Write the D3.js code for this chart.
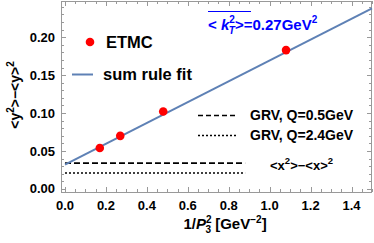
<!DOCTYPE html>
<html>
<head>
<meta charset="utf-8">
<script src="https://cdn.jsdelivr.net/npm/d3@7"></script>
<style>
  body { margin: 0; background: #fff; }
  text { font-family: "Liberation Sans", Arial, sans-serif; font-weight: bold; }
</style>
</head>
<body>
<div id="chart-area"></div>
<script>
// ETMC lattice points
var etmcX = [0.17, 0.27, 0.48, 1.08];
var etmcY = [0.054, 0.070, 0.102, 0.183];
// sum rule fit: intercept + slope * x
var fitX = [0, 1.5];
var fitY = [0.032, 0.238];
// GRV constant lines
var grvLevels = [0.034, 0.021];
var grvRange = [0, 0.88];
var xTicks = [0.0, 0.2, 0.4, 0.6, 0.8, 1.0, 1.2, 1.4];
var yTicks = [0.00, 0.05, 0.10, 0.15, 0.20];

var W = 374, H = 243;
var svg = d3.select("#chart-area").append("svg")
    .attr("width", W)
    .attr("height", H);

var x = d3.scaleLinear().domain([-0.0195, 1.5]).range([61, 372]);
var y = d3.scaleLinear().domain([-0.004, 0.2477]).range([192, 1]);

var frameColor = "#999";

// minor ticks
var xMinor = d3.range(0, 1.51, 0.05);
var yMinor = d3.range(0, 0.2451, 0.01);

function isMajor(v, step) {
    return Math.abs(v / step - Math.round(v / step)) < 1e-6;
}

var ticks = svg.append("g").attr("stroke", frameColor).attr("stroke-width", 1);
xMinor.forEach(function(v) {
    var len = isMajor(v, 0.2) ? 5 : 3;
    var px = Math.round(x(v)) + 0.5;
    ticks.append("line").attr("x1", px).attr("x2", px).attr("y1", 192).attr("y2", 192 - len);
    ticks.append("line").attr("x1", px).attr("x2", px).attr("y1", 1).attr("y2", 1 + len);
});
yMinor.forEach(function(v) {
    var len = isMajor(v, 0.05) ? 5 : 3;
    var py = Math.round(y(v)) + 0.5;
    ticks.append("line").attr("x1", 61).attr("x2", 61 + len).attr("y1", py).attr("y2", py);
    ticks.append("line").attr("x1", 372).attr("x2", 372 - len).attr("y1", py).attr("y2", py);
});

// frame
svg.append("rect")
    .attr("x", 61.5).attr("y", 1.5)
    .attr("width", 310).attr("height", 191)
    .attr("fill", "none").attr("stroke", frameColor);

// tick labels
svg.selectAll(".xl").data(xTicks).enter().append("text")
    .attr("x", function(d) { return x(d); })
    .attr("y", 210)
    .attr("text-anchor", "middle")
    .attr("font-size", 13)
    .text(function(d) { return d.toFixed(1); });

svg.selectAll(".yl").data(yTicks).enter().append("text")
    .attr("x", 55)
    .attr("y", function(d) { return y(d) + 4.5; })
    .attr("text-anchor", "end")
    .attr("font-size", 13)
    .text(function(d) { return d.toFixed(2); });

// GRV lines
svg.append("line")
    .attr("x1", x(grvRange[0])).attr("x2", x(grvRange[1]))
    .attr("y1", y(grvLevels[0])).attr("y2", y(grvLevels[0]))
    .attr("stroke", "#000").attr("stroke-width", 1.6)
    .attr("stroke-dasharray", "6,3");
svg.append("line")
    .attr("x1", x(grvRange[0])).attr("x2", x(grvRange[1]))
    .attr("y1", y(grvLevels[1])).attr("y2", y(grvLevels[1]))
    .attr("stroke", "#000").attr("stroke-width", 1.6)
    .attr("stroke-dasharray", "2,2");

// fit line
var line = d3.line()
    .x(function(d) { return x(d[0]); })
    .y(function(d) { return y(d[1]); });
svg.append("path")
    .datum(d3.zip(fitX, fitY))
    .attr("d", line)
    .attr("fill", "none")
    .attr("stroke", "#5E81B5")
    .attr("stroke-width", 2);

// points
svg.selectAll("circle.etmc").data(d3.zip(etmcX, etmcY)).enter().append("circle")
    .attr("cx", function(d) { return x(d[0]); })
    .attr("cy", function(d) { return y(d[1]); })
    .attr("r", 4.3)
    .attr("fill", "#FF0000");

// legend
svg.append("circle").attr("cx", 90).attr("cy", 42).attr("r", 4.3).attr("fill", "#FF0000");
svg.append("text").attr("x", 106).attr("y", 48).attr("font-size", 16.5).text("ETMC");
svg.append("line").attr("x1", 72).attr("x2", 93).attr("y1", 74.5).attr("y2", 74.5)
    .attr("stroke", "#5E81B5").attr("stroke-width", 2);
svg.append("text").attr("x", 103).attr("y", 80).attr("font-size", 16.5).text("sum rule fit");

svg.append("line").attr("x1", 198).attr("x2", 238).attr("y1", 115.5).attr("y2", 115.5)
    .attr("stroke", "#000").attr("stroke-width", 1.6).attr("stroke-dasharray", "5,3");
svg.append("text").attr("x", 250).attr("y", 120).attr("font-size", 14).text("GRV, Q=0.5GeV");
svg.append("line").attr("x1", 198).attr("x2", 238).attr("y1", 135.5).attr("y2", 135.5)
    .attr("stroke", "#000").attr("stroke-width", 1.6).attr("stroke-dasharray", "2,2");
svg.append("text").attr("x", 250).attr("y", 140).attr("font-size", 14).text("GRV, Q=2.4GeV");

var xx = svg.append("text").attr("x", 270).attr("y", 170).attr("font-size", 13);
xx.append("tspan").text("<x");
xx.append("tspan").attr("dy", -6).attr("font-size", 9.5).text("2");
xx.append("tspan").attr("dy", 6).text(">\u2212<x>");
xx.append("tspan").attr("dy", -6).attr("font-size", 9.5).text("2");

// kT annotation
var kt = svg.append("text").attr("x", 208).attr("y", 30).attr("font-size", 15).attr("fill", "#0000FF");
kt.append("tspan").text("< ");
kt.append("tspan").attr("font-style", "italic").text("k");
kt.append("tspan").attr("dy", -7).attr("font-size", 10).text("2");
kt.append("tspan").attr("dx", -6).attr("dy", 11).attr("font-size", 10).attr("font-style", "italic").text("T");
kt.append("tspan").attr("dy", -4).text(">=0.27GeV");
kt.append("tspan").attr("dy", -7).attr("font-size", 10).text("2");
svg.append("line").attr("x1", 208).attr("x2", 251).attr("y1", 11.5).attr("y2", 11.5)
    .attr("stroke", "#0000FF").attr("stroke-width", 1.2);

// axis titles
var yl = svg.append("text")
    .attr("transform", "translate(20,95) rotate(-90)")
    .attr("text-anchor", "middle")
    .attr("font-size", 14);
yl.append("tspan").text("<y");
yl.append("tspan").attr("dy", -6).attr("font-size", 10).text("2");
yl.append("tspan").attr("dy", 6).text(">\u2212<y>");
yl.append("tspan").attr("dy", -6).attr("font-size", 10).text("2");

var xl = svg.append("text")
    .attr("x", 225).attr("y", 229)
    .attr("text-anchor", "middle")
    .attr("font-size", 15);
xl.append("tspan").text("1/");
xl.append("tspan").attr("font-style", "italic").text("P");
xl.append("tspan").attr("dy", -6).attr("font-size", 10).text("2");
xl.append("tspan").attr("dx", -6).attr("dy", 10).attr("font-size", 10).text("3");
xl.append("tspan").attr("dy", -4).text(" [GeV");
xl.append("tspan").attr("dy", -6).attr("font-size", 10).text("\u22122");
xl.append("tspan").attr("dy", 6).text("]");
</script>
</body>
</html>
